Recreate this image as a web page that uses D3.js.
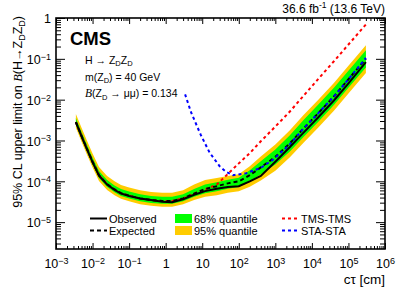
<!DOCTYPE html>
<html>
<head>
<meta charset="utf-8">
<script src="https://cdn.jsdelivr.net/npm/d3@7"></script>
<style>
  body { margin: 0; background: #fff; }
  svg { display: block; font-family: "Liberation Sans", Arial, sans-serif; }
</style>
</head>
<body>
<svg id="chart" width="402" height="289"></svg>
<script>
// values
const ctValues = [0.0035, 0.005, 0.007, 0.01, 0.015, 0.025, 0.04, 0.06, 0.1, 0.2, 0.4, 0.8, 1.5, 3,
  6, 12, 25, 50, 100, 200, 400, 1000, 2500, 6000, 15000, 40000, 1e5, 3e5]

const observed = [2.82e-3, 1.26e-3, 6.17e-4, 2.95e-4, 1.38e-4, 8.32e-5, 6.17e-5, 5.01e-5, 4.37e-5, 3.80e-5, 3.47e-5, 3.16e-5, 3.09e-5, 3.63e-5,
  4.68e-5, 5.75e-5, 6.61e-5, 7.24e-5, 7.59e-5, 1.0e-4, 1.35e-4, 3.02e-4, 6.92e-4, 1.58e-3, 3.72e-3, 9.55e-3, 2.51e-2, 8.32e-2]

const expected = [2.82e-3, 1.29e-3, 6.31e-4, 3.02e-4, 1.41e-4, 8.51e-5, 6.31e-5, 5.13e-5, 4.47e-5, 3.80e-5, 3.47e-5, 3.31e-5, 3.31e-5, 3.80e-5,
  5.01e-5, 6.46e-5, 7.59e-5, 8.91e-5, 1.0e-4, 1.41e-4, 2.19e-4, 3.98e-4, 8.51e-4, 2.0e-3, 4.68e-3, 1.20e-2, 3.16e-2, 0.1]

const band68Low = [2.40e-3, 1.10e-3, 5.37e-4, 2.57e-4, 1.20e-4, 7.24e-5, 5.37e-5, 4.37e-5, 3.80e-5, 3.24e-5, 2.95e-5, 2.82e-5, 2.82e-5, 3.24e-5,
  4.17e-5, 5.13e-5, 5.75e-5, 6.61e-5, 7.24e-5, 1.0e-4, 1.48e-4, 2.57e-4, 5.37e-4, 1.23e-3, 2.88e-3, 7.41e-3, 1.95e-2, 6.17e-2]
const band68High = [3.55e-3, 1.62e-3, 7.94e-4, 3.80e-4, 1.78e-4, 1.07e-4, 7.94e-5, 6.46e-5, 5.62e-5, 4.79e-5, 4.37e-5, 4.17e-5, 4.17e-5, 4.79e-5,
  6.46e-5, 8.32e-5, 9.55e-5, 1.10e-4, 1.23e-4, 1.86e-4, 3.09e-4, 6.03e-4, 1.35e-3, 3.24e-3, 7.59e-3, 1.95e-2, 5.13e-2, 0.162]
const band95Low = [2.04e-3, 9.33e-4, 4.57e-4, 2.19e-4, 1.02e-4, 6.17e-5, 4.57e-5, 3.72e-5, 3.24e-5, 2.75e-5, 2.51e-5, 2.40e-5, 2.40e-5, 2.75e-5,
  3.47e-5, 4.17e-5, 4.57e-5, 5.25e-5, 5.75e-5, 7.41e-5, 1.05e-4, 1.82e-4, 3.89e-4, 8.91e-4, 2.09e-3, 5.37e-3, 1.41e-2, 4.47e-2]
const band95High = [4.47e-3, 2.04e-3, 1.0e-3, 4.79e-4, 2.24e-4, 1.35e-4, 1.0e-4, 8.13e-5, 7.08e-5, 6.03e-5, 5.50e-5, 5.25e-5, 5.25e-5, 6.03e-5,
  8.32e-5, 1.07e-4, 1.20e-4, 1.35e-4, 1.48e-4, 2.34e-4, 4.07e-4, 7.94e-4, 1.78e-3, 4.27e-3, 1.0e-2, 2.57e-2, 6.76e-2, 0.214]

const tmsValues = [2.82e-3, 1.29e-3, 6.31e-4, 3.02e-4, 1.41e-4, 8.51e-5, 6.31e-5, 5.13e-5, 4.47e-5, 3.80e-5, 3.47e-5, 3.31e-5, 3.31e-5, 3.80e-5,
  5.01e-5, 6.31e-5, 8.32e-5, 1.51e-4, 2.75e-4, 4.90e-4, 9.55e-4, 2.19e-3, 5.13e-3, 1.26e-2, 3.24e-2, 8.71e-2, 0.224, 0.692]

const staCt = [3.4, 5, 9, 16, 30, 45, 70, 160, 400, 900, 2500, 6000, 15000, 40000, 1e5, 3e5]
const staValues = [1.35e-2, 4.79e-3, 1.41e-3, 5.01e-4, 2.34e-4, 1.70e-4, 1.41e-4, 1.58e-4, 2.14e-4, 3.47e-4, 8.13e-4, 2.0e-3, 4.68e-3, 1.20e-2, 3.16e-2, 0.105]

const xTicks = [1e-3, 1e-2, 1e-1, 1, 10, 1e2, 1e3, 1e4, 1e5, 1e6]
const xTickLabels = ['10^−3', '10^−2', '10^−1', '1', '10', '10^2', '10^3', '10^4', '10^5', '10^6']
const yTicks = [1e-5, 1e-4, 1e-3, 1e-2, 1e-1, 1]
const yTickLabels = ['10^−5', '10^−4', '10^−3', '10^−2', '10^−1', '1']


const svg = d3.select('#chart')
const plotLeft = 56, plotRight = 385, plotTop = 18, plotBottom = 249

let x = d3.scaleLog()
  .domain([1e-3, 1e6])
  .range([plotLeft, plotRight])

let y = d3.scaleLog()
  .domain([2.2e-6, 1])
  .range([plotBottom, plotTop])

const rows = ctValues.map((c, i) => ({
  ct: c, obs: observed[i], exp: expected[i], tms: tmsValues[i],
  lo68: band68Low[i], hi68: band68High[i], lo95: band95Low[i], hi95: band95High[i]
}))
const staRows = staCt.map((c, i) => ({ ct: c, v: staValues[i] }))


// write "10^n" as 10 with a raised exponent
function supText(sel, label) {
  let parts = label.split('^')
  sel.text(null)
  sel.append('tspan').text(parts[0])
  if (parts[1]) {
    sel.append('tspan')
      .attr('dy', '-0.48em')
      .attr('font-size', '0.72em')
      .text(parts[1])
  }
}

// bands
let plot = svg.append('g')

plot.append('path')
  .datum(rows)
  .attr('fill', '#ffcc00')
  .attr('d', d3.area().x(d => x(d.ct)).y0(d => y(d.lo95)).y1(d => y(d.hi95)))

plot.append('path')
  .datum(rows)
  .attr('fill', '#00ff00')
  .attr('d', d3.area().x(d => x(d.ct)).y0(d => y(d.lo68)).y1(d => y(d.hi68)))

function drawLine(data, key, color, dash) {
  plot.append('path')
    .datum(data)
    .attr('fill', 'none')
    .attr('stroke', color)
    .attr('stroke-width', 2)
    .attr('stroke-dasharray', dash)
    .attr('d', d3.line().x(d => x(d.ct)).y(d => y(d[key])))
}

drawLine(rows, 'tms', '#ff0000', '3,3')
drawLine(rows, 'exp', '#000', '4,3')
drawLine(staRows, 'v', '#0000ff', '3,3')
drawLine(rows, 'obs', '#000', null)


// axes, ticks pointing inward on all four sides
const xMinor = x.ticks().filter(t => !xTicks.some(m => Math.abs(m / t - 1) < 1e-6))
const yMinor = y.ticks().filter(t => !yTicks.some(m => Math.abs(m / t - 1) < 1e-6))

function axisGroup(axis, tx, ty) {
  let g = svg.append('g')
    .attr('transform', `translate(${tx},${ty})`)
    .call(axis)
  g.select('.domain').remove()
  g.selectAll('line').attr('stroke', '#000').attr('stroke-width', 1)
  return g
}

let xAxis = axisGroup(d3.axisBottom(x).tickValues(xTicks).tickSize(-6).tickSizeOuter(0).tickPadding(10.5)
  .tickFormat((d, i) => xTickLabels[i]), 0, plotBottom)
xAxis.selectAll('text')
  .attr('font-size', 12.5)
  .attr('font-family', '"Liberation Sans", Arial, sans-serif')
  .attr('fill', '#000')
  .each(function (d, i) { supText(d3.select(this), xTickLabels[i]) })

axisGroup(d3.axisBottom(x).tickValues(xMinor).tickSize(-3).tickSizeOuter(0).tickFormat(''), 0, plotBottom)
axisGroup(d3.axisTop(x).tickValues(xTicks).tickSize(-6).tickSizeOuter(0).tickFormat(''), 0, plotTop)
axisGroup(d3.axisTop(x).tickValues(xMinor).tickSize(-3).tickSizeOuter(0).tickFormat(''), 0, plotTop)

let yAxis = axisGroup(d3.axisLeft(y).tickValues(yTicks).tickSize(-9).tickSizeOuter(0).tickPadding(5)
  .tickFormat((d, i) => yTickLabels[i]), plotLeft, 0)
yAxis.selectAll('text')
  .attr('font-size', 12.5)
  .attr('font-family', '"Liberation Sans", Arial, sans-serif')
  .attr('fill', '#000')
  .attr('dy', '0.38em')
  .each(function (d, i) { supText(d3.select(this), yTickLabels[i]) })

axisGroup(d3.axisLeft(y).tickValues(yMinor).tickSize(-5).tickSizeOuter(0).tickFormat(''), plotLeft, 0)
axisGroup(d3.axisRight(y).tickValues(yTicks).tickSize(-9).tickSizeOuter(0).tickFormat(''), plotRight, 0)
axisGroup(d3.axisRight(y).tickValues(yMinor).tickSize(-5).tickSizeOuter(0).tickFormat(''), plotRight, 0)

svg.append('rect')
  .attr('x', plotLeft).attr('y', plotTop)
  .attr('width', plotRight - plotLeft).attr('height', plotBottom - plotTop)
  .attr('fill', 'none')
  .attr('stroke', '#000')
  .attr('stroke-width', 1.6)


// titles
let yTitle = svg.append('text')
  .attr('transform', 'translate(21.5,16) rotate(-90)')
  .attr('text-anchor', 'end')
  .attr('font-size', 12.5)
yTitle.append('tspan').text('95% CL upper limit on ')
yTitle.append('tspan').attr('font-family', '"Liberation Serif", serif').attr('font-style', 'italic').text('B')
yTitle.append('tspan').text('(H→Z')
yTitle.append('tspan').attr('font-size', 9).attr('dy', 3).text('D')
yTitle.append('tspan').attr('dy', -3).text('Z')
yTitle.append('tspan').attr('font-size', 9).attr('dy', 3).text('D')
yTitle.append('tspan').attr('dy', -3).text(')')

svg.append('text')
  .attr('x', plotRight).attr('y', 284)
  .attr('text-anchor', 'end')
  .attr('font-size', 13.5)
  .text('cτ [cm]')

let lumi = svg.append('text')
  .attr('x', plotRight).attr('y', 12.5)
  .attr('text-anchor', 'end')
  .attr('font-size', 12)
lumi.append('tspan').text('36.6 fb')
lumi.append('tspan').attr('font-size', 8.5).attr('dy', -4.5).text('-1')
lumi.append('tspan').attr('dy', 4.5).text(' (13.6 TeV)')

svg.append('text')
  .attr('x', 70).attr('y', 44.5)
  .attr('font-size', 18.5)
  .attr('font-weight', 'bold')
  .text('CMS')

function subLine(yPos, pieces) {
  let t = svg.append('text').attr('x', 85).attr('y', yPos).attr('font-size', 10.5)
  for (let p of pieces) {
    let s = t.append('tspan').text(p.t)
    if (p.sub) s.attr('font-size', 7.5).attr('dy', 2.5)
    if (p.up) s.attr('dy', -2.5)
    if (p.cal) s.attr('font-family', '"Liberation Serif", serif').attr('font-style', 'italic').attr('font-size', 11.5)
  }
}
subLine(63.5, [{ t: 'H → Z' }, { t: 'D', sub: true }, { t: 'Z', up: true }, { t: 'D', sub: true }])
subLine(80.5, [{ t: 'm(Z' }, { t: 'D', sub: true }, { t: ') = 40 GeV', up: true }])
subLine(97, [{ t: 'B', cal: true }, { t: '(Z' }, { t: 'D', sub: true }, { t: ' → μμ) = 0.134', up: true }])


// legend
const legendLabels = ['Observed', 'Expected', '68% quantile', '95% quantile', 'TMS-TMS', 'STA-STA']
let legend = svg.append('g').attr('font-size', 11)

function legendLine(x0, yPos, color, dash) {
  legend.append('line')
    .attr('x1', x0).attr('x2', x0 + 17)
    .attr('y1', yPos).attr('y2', yPos)
    .attr('stroke', color)
    .attr('stroke-width', 2)
    .attr('stroke-dasharray', dash)
}
function legendBox(x0, yPos, color) {
  legend.append('rect')
    .attr('x', x0).attr('y', yPos - 4.5)
    .attr('width', 17).attr('height', 9)
    .attr('fill', color)
}
function legendText(x0, yPos, label) {
  legend.append('text').attr('x', x0).attr('y', yPos + 4).text(label)
}

legendLine(90, 218.5, '#000', null); legendText(109, 218.5, legendLabels[0])
legendLine(90, 230.5, '#000', '4,3'); legendText(109, 230.5, legendLabels[1])
legendBox(175, 218.5, '#00ff00'); legendText(194, 218.5, legendLabels[2])
legendBox(175, 230.5, '#ffcc00'); legendText(194, 230.5, legendLabels[3])
legendLine(282, 218.5, '#ff0000', '3,3'); legendText(301, 218.5, legendLabels[4])
legendLine(282, 230.5, '#0000ff', '3,3'); legendText(301, 230.5, legendLabels[5])
</script>
</body>
</html>
